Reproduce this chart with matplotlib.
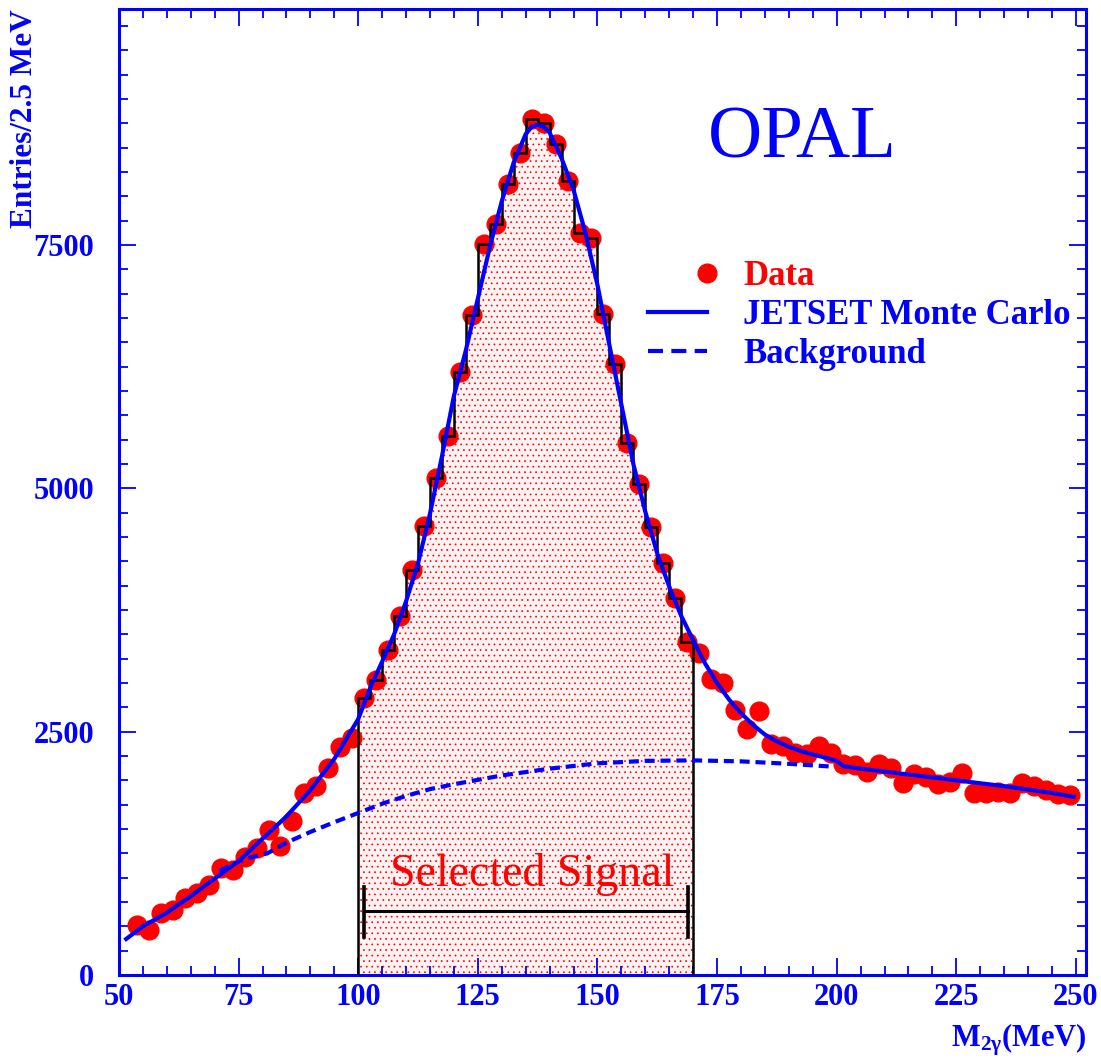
import matplotlib
matplotlib.use('Agg')
import matplotlib.pyplot as plt
from matplotlib.ticker import MultipleLocator
import numpy as np

plt.rc('font', family='Liberation Serif', weight='bold')
plt.rc('mathtext', fontset='custom', rm='Liberation Serif:bold',
       it='Liberation Serif:bold', bf='Liberation Serif:bold')
plt.rc('hatch', color='red', linewidth=0.5)

blue = '#0000ff'
red = '#ff0000'

# data: 2.5 MeV bins from 52.5 to 250 MeV
bin_width = 2.5
centres = np.arange(53.75, 250.0, bin_width)
counts = [518, 467, 641, 672, 795, 846, 928, 1102, 1082, 1215,
          1307, 1492, 1328, 1584, 1871, 1943, 2128, 2343, 2435, 2845,
          3030, 3338, 3690, 4160, 4609, 5110, 5540, 6195, 6785, 7515,
          7720, 8130, 8447, 8790, 8755, 8533, 8157, 7627, 7576, 6790,
          6275, 5463, 5045, 4606, 4237, 3871, 3425, 3305, 3038, 2997,
          2723, 2525, 2716, 2370, 2353, 2284, 2271, 2353, 2278, 2168,
          2158, 2089, 2168, 2130, 1970, 2065, 2038, 1963, 1986, 2073,
          1873, 1873, 1884, 1873, 1970, 1942, 1901, 1860, 1850]
counts = np.array(counts, dtype=float)

# JETSET Monte Carlo curve
mc_x = [51.5, 55, 60, 65, 70, 75, 80, 85, 90, 95, 100, 102.5, 105, 107.5,
        110, 112.5, 115, 117.5, 120, 122.5, 125, 127.5, 130, 132.5, 135,
        136.25, 137.5, 138.75, 140, 142.5, 145, 147.5, 150, 152.5, 155,
        157.5, 160, 162.5, 165, 167.5, 170, 172.5, 175, 177.5, 180, 182.5,
        185, 187.5, 190, 192.5, 195, 197.5, 200, 201.5, 205, 210, 215, 220,
        225, 230, 235, 240, 245, 249.5]
mc_y = [370, 500, 640, 810, 990, 1170, 1400, 1630, 1900, 2220, 2630, 2950,
        3220, 3500, 3840, 4230, 4740, 5330, 5950, 6420, 6950, 7480, 7950,
        8350, 8640, 8715, 8735, 8715, 8655, 8390, 8066, 7620, 7090, 6470,
        5860, 5250, 4760, 4330, 3990, 3690, 3440, 3200, 3000, 2830, 2690,
        2570, 2470, 2400, 2345, 2300, 2265, 2235, 2200, 2145, 2120, 2090,
        2060, 2030, 2000, 1970, 1940, 1905, 1870, 1830]

# background curve
bg_x = [71, 76, 81, 85, 90, 95, 100, 105, 110, 115, 120, 130, 140, 150,
        160, 170, 180, 190, 199]
bg_y = [1070, 1190, 1250, 1360, 1470, 1570, 1665, 1760, 1840, 1910, 1960,
        2050, 2120, 2175, 2200, 2205, 2195, 2170, 2141]

sig_lo, sig_hi = 100, 170

fig = plt.figure(figsize=(11.01, 10.59), dpi=100)
ax = fig.add_axes([119/1101, 1-975/1059, 967/1101, 966/1059])

# selected signal histogram
sel = (centres > sig_lo) & (centres < sig_hi)
edges = np.append(centres[sel] - bin_width/2, centres[sel][-1] + bin_width/2)
ax.stairs(counts[sel], edges, baseline=0, fill=True, facecolor='#fff2f2',
          edgecolor=red, hatch='...', linewidth=0, zorder=1)

ax.errorbar(centres, counts, yerr=np.sqrt(counts), fmt='o', color=red,
            ms=13.5, elinewidth=1.2, capsize=0, zorder=2)

ax.stairs(counts[sel], edges, baseline=0, color='black', linewidth=1.8,
          zorder=3)

ax.plot(bg_x, bg_y, color=blue, lw=3, linestyle=(0, (2.4, 1.4)), zorder=3)
ax.plot(mc_x, mc_y, color=blue, lw=3, zorder=4)

# selected signal bracket
ax.plot([101.1, 169.0], [658, 658], color='black', lw=2.2, zorder=3)
ax.plot([101.1, 101.1], [394, 907], color='black', lw=2.6, zorder=3)
ax.plot([169.0, 169.0], [394, 907], color='black', lw=2.6, zorder=3)
ax.text(0.4268, 0.0921, 'Selected Signal', transform=ax.transAxes,
        color=red, fontsize=33, fontweight='normal', ha='center',
        va='baseline', zorder=5)

ax.text(0.7063, 0.8458, 'OPAL', transform=ax.transAxes, color=blue,
        fontsize=54, fontweight='normal', ha='center', va='baseline')

# legend
ax.plot([0.608], [0.7267], 'o', color=red, ms=13.5, transform=ax.transAxes)
ax.plot([0.547, 0.608], [0.6866, 0.6866], color=blue, lw=3,
        transform=ax.transAxes)
ax.plot([0.547, 0.608], [0.646, 0.646], color=blue, lw=3,
        linestyle=(0, (3.6, 2.0)), transform=ax.transAxes)
ax.text(0.6453, 0.7143, 'Data', transform=ax.transAxes, color=red,
        fontsize=25, va='baseline')
ax.text(0.6453, 0.6736, 'JETSET Monte Carlo', transform=ax.transAxes,
        color=blue, fontsize=25, va='baseline')
ax.text(0.6453, 0.6332, 'Background', transform=ax.transAxes, color=blue,
        fontsize=25, va='baseline')

ax.set_xlim(50, 252.1)
ax.set_ylim(0, 9925)
ax.xaxis.set_major_locator(MultipleLocator(25))
ax.xaxis.set_minor_locator(MultipleLocator(5))
ax.yaxis.set_major_locator(MultipleLocator(2500))
ax.yaxis.set_minor_locator(MultipleLocator(250))

for s in ax.spines.values():
    s.set_color(blue)
    s.set_linewidth(2.2)
ax.tick_params(which='both', direction='in', top=True, right=True,
               color=blue, width=1.3, labelcolor=blue, labelsize=22)
ax.tick_params(which='major', length=12)
ax.tick_params(which='minor', length=6.5)
ax.tick_params(axis='y', pad=18)
ax.tick_params(axis='x', pad=6)

fig.text(25/1101, 1-9/1059, 'Entries/2.5 MeV', rotation=90, color=blue,
         fontsize=22.5, ha='center', va='top')
fig.text(1087/1101, 1-1047/1059, r'M$_{2\gamma}$(MeV)', color=blue,
         fontsize=22, ha='right', va='baseline')

fig.savefig('out.png', dpi=100)
